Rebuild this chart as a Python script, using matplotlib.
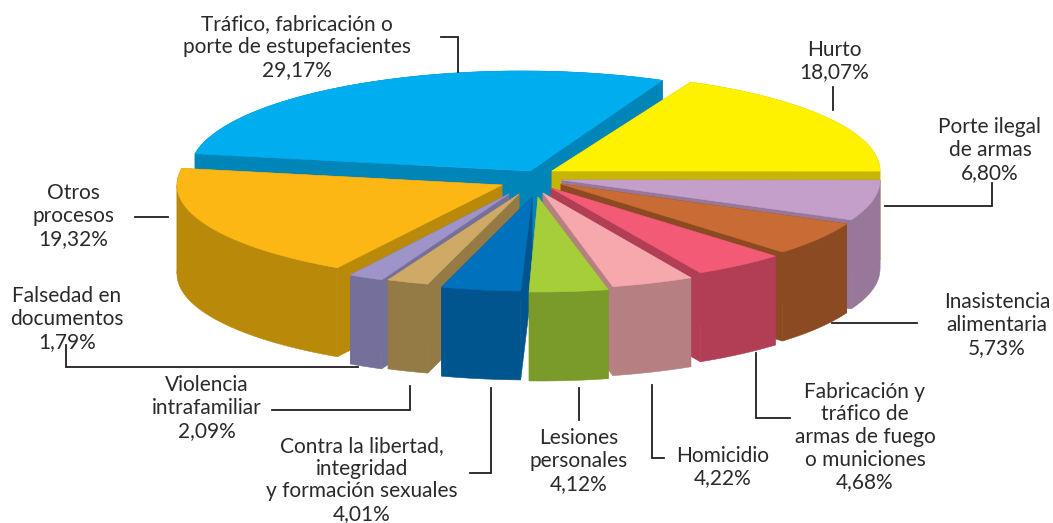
import numpy as np
import matplotlib
matplotlib.use('Agg')
import matplotlib.pyplot as plt

# data
labels = ['Hurto\n18,07%',
          'Porte ilegal\nde armas\n6,80%',
          'Inasistencia\nalimentaria\n5,73%',
          'Fabricación y\ntráfico de\narmas de fuego\no municiones\n4,68%',
          'Homicidio\n4,22%',
          'Lesiones\npersonales\n4,12%',
          'Contra la libertad,\nintegridad\ny formación sexuales\n4,01%',
          'Violencia\nintrafamiliar\n2,09%',
          'Falsedad en\ndocumentos\n1,79%',
          'Otros\nprocesos\n19,32%',
          'Tráfico, fabricación o\nporte de estupefacientes\n29,17%']
values = [18.07, 6.80, 5.73, 4.68, 4.22, 4.12, 4.01, 2.09, 1.79, 19.32, 29.17]

# colours, top and side
top_col = ['#FFF200', '#C49FCA', '#C86B35', '#F25A76', '#F7A8AC', '#A6CE39',
           '#0071BC', '#CFAA66', '#9E94C8', '#FDB714', '#00AEEF']
side_col = ['#C8B500', '#97789B', '#8C4A22', '#B23E55', '#B67F82', '#7A9A2A',
            '#00558F', '#947A45', '#75709B', '#B98A09', '#0085B8']

# pie geometry
cx, cy = 532, 180
depth = 89
start = 65
explode_x = [20, 30, 29, 19, 11, 6, 0, -13, -23, -30, -2]
explode_y = [-9, 0, 4, 8, 13, 17, 17, 14, 14, 5, -9]
rx = [328, 318, 314, 318, 315, 308, 319, 322, 313, 325, 332]
ry = [98, 96, 96, 96, 96, 95, 94, 94, 94, 96, 100]
arc_shift = [0, 0, 0, 0, 0, 2, 0, 0, 0, 0, -8]
draw_order = [10, 0, 9, 8, 7, 1, 2, 3, 4, 6, 5]

# label layout
label_x = [834, 990, 997, 865, 723, 579, 362, 207, 67, 73, 297]
label_y = [61, 150, 325, 437, 467, 461, 480, 408, 319, 216, 47]
leaders = [[(833, 87), (833, 110)],
           [(885, 206), (992, 206), (992, 183)],
           [(832, 323), (917, 323)],
           [(756, 353), (756, 418), (790, 418)],
           [(652, 385), (652, 458), (664, 458)],
           [(579, 388), (579, 420)],
           [(491, 388), (491, 473), (470, 473)],
           [(410, 386), (410, 410), (272, 410)],
           [(66, 345), (66, 367), (358, 367)],
           [(135, 217), (168, 217)],
           [(441, 37), (458, 37), (458, 72)]]

plt.rcParams['font.family'] = ['Lato', 'DejaVu Sans']

fig = plt.figure(figsize=(10.53, 5.23), dpi=100)
ax = fig.add_axes([0, 0, 1, 1])
ax.set_xlim(0, 1053)
ax.set_ylim(523, 0)
ax.axis('off')

sweeps = np.array(values) / sum(values) * 360
ends = start - np.cumsum(sweeps)
starts = ends + sweeps


def fill(xs, ys, col, z):
    ax.fill(xs, ys, facecolor=col, edgecolor=col, linewidth=0.4, zorder=z)


for z, i in enumerate(draw_order):
    ax0 = cx + explode_x[i]
    ay0 = cy + explode_y[i]
    t = np.radians(np.linspace(starts[i], ends[i], 120))
    arc_x = ax0 + arc_shift[i] + rx[i] * np.cos(t)
    arc_y = ay0 - ry[i] * np.sin(t)
    # cut faces
    for j in [0, -1]:
        fill([ax0, arc_x[j], arc_x[j], ax0],
             [ay0, arc_y[j], arc_y[j] + depth, ay0 + depth], side_col[i], z)
    # outer wall, split where the arc turns back at the left or right edge
    folds = np.where(np.diff(np.sign(np.diff(arc_x))) != 0)[0] + 1
    edges = np.r_[0, folds, len(t) - 1]
    for a, b in zip(edges[:-1], edges[1:]):
        px = arc_x[a:b + 1]
        py = arc_y[a:b + 1]
        fill(np.r_[px, px[::-1]], np.r_[py, py[::-1] + depth], side_col[i], z)
    # top
    fill(np.r_[ax0, arc_x], np.r_[ay0, arc_y], top_col[i], z)

for i in range(len(values)):
    ax.text(label_x[i], label_y[i], labels[i], ha='center', va='center',
            fontsize=15, color='#2B2A29', linespacing=1.17, zorder=30)
    xs, ys = zip(*leaders[i])
    ax.plot(xs, ys, color='#231F20', lw=1.3, solid_joinstyle='miter', zorder=30)

fig.savefig('out.png', dpi=100)
